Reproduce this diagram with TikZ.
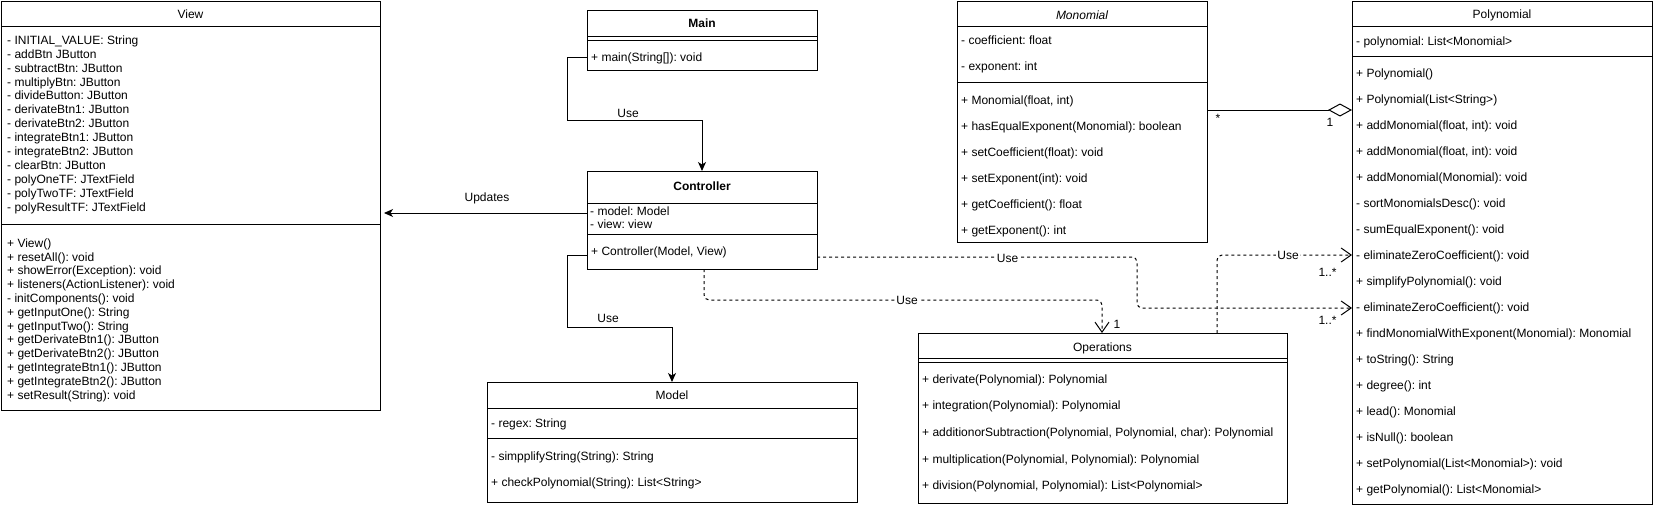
\documentclass[tikz,border=0pt]{standalone}
\usepackage{fontspec}
\setmainfont{Liberation Sans}
\usetikzlibrary{arrows.meta}
\frenchspacing
\newcommand\fs{\fontsize{12}{14}\selectfont}
\tikzset{
  cls/.style={draw, line width=1pt, anchor=north west, inner sep=0pt, outer sep=0pt},
  mem/.style={anchor=west, inner sep=0pt, font=\fs, text height=10.8pt, text depth=2.2pt},
  ttl/.style={anchor=center, inner sep=0pt, font=\fs, text height=10.8pt, text depth=2.2pt},
  sepline/.style={line width=1pt},
  link/.style={line width=1pt, -{Stealth[length=9pt,width=8pt,inset=2.5pt]}},
  dep/.style={line width=1pt, dash pattern=on 3pt off 3pt, rounded corners=5pt,
              -{Straight Barb[length=10pt,width=14pt,line width=1pt]}},
  agg/.style={line width=1pt, -{Diamond[length=24pt,width=13pt,open,fill=white,line width=1pt]}},
  lbl/.style={anchor=center, inner sep=1pt, font=\fs, text height=10.8pt, text depth=2.2pt},
  dlbl/.style={lbl, fill=white},
}
\begin{document}
\frenchspacing
\begin{tikzpicture}[x=1pt,y=-1pt]
\useasboundingbox (0,0) rectangle (1655,506);

% ---------- View ----------
\node[cls, minimum width=379pt, minimum height=409pt] (view) at (1,1) {};
\node[ttl] (viewT) at (190.5,14) {View};
\draw[sepline] (1,26) -- (380,26);
\draw[sepline] (1,224) -- (380,224);
\foreach \t [count=\i from 0] in {
  - INITIAL\_VALUE: String,
  - addBtn JButton,
  - subtractBtn: JButton,
  - multiplyBtn: JButton,
  - divideButton: JButton,
  - derivateBtn1: JButton,
  - derivateBtn2: JButton,
  - integrateBtn1: JButton,
  - integrateBtn2: JButton,
  - clearBtn: JButton,
  - polyOneTF: JTextField,
  - polyTwoTF: JTextField,
  - polyResultTF: JTextField}
  \node[mem] (va\i) at (7,{40+13.9*\i}) {\t};
\foreach \t [count=\i from 0] in {
  + View(),
  + resetAll(): void,
  + showError(Exception): void,
  + listeners(ActionListener): void,
  - initComponents(): void,
  + getInputOne(): String,
  + getInputTwo(): String,
  + getDerivateBtn1(): JButton,
  + getDerivateBtn2(): JButton,
  + getIntegrateBtn1(): JButton,
  + getIntegrateBtn2(): JButton,
  + setResult(String): void}
  \node[mem] (vm\i) at (7,{243+13.8*\i}) {\t};

% ---------- Main ----------
\node[cls, minimum width=230pt, minimum height=60pt] (main) at (587,10) {};
\node[ttl, font=\fs\bfseries] (mainT) at (702,23) {Main};
\draw[sepline] (587,36) -- (817,36);
\draw[sepline] (587,40) -- (817,40);
\node[mem] (mm0) at (591,57) {+ main(String[]): void};

% ---------- Controller ----------
\node[cls, minimum width=230pt, minimum height=98pt] (ctrl) at (587,171) {};
\node[ttl, font=\fs\bfseries] (ctrlT) at (702,186) {Controller};
\draw[sepline] (587,203) -- (817,203);
\draw[sepline] (587,234.5) -- (817,234.5);
\node[mem] (ca0) at (590,211) {- model: Model};
\node[mem] (ca1) at (590,224) {- view: view};
\node[mem] (cm0) at (591,251) {+ Controller(Model, View)};

% ---------- Model ----------
\node[cls, minimum width=370pt, minimum height=120pt] (model) at (487,382) {};
\node[ttl] (modelT) at (672,395) {Model};
\draw[sepline] (487,408) -- (857,408);
\draw[sepline] (487,438) -- (857,438);
\node[mem] (ma0) at (491,423) {- regex: String};
\node[mem] (mo0) at (491,456) {- simpplifyString(String): String};
\node[mem] (mo1) at (491,482) {+ checkPolynomial(String): List<String>};

% ---------- Operations ----------
\node[cls, minimum width=369pt, minimum height=170pt] (ops) at (918,333) {};
\node[ttl] (opsT) at (1102.5,347) {Operations};
\draw[sepline] (918,358) -- (1287,358);
\draw[sepline] (918,362) -- (1287,362);
\foreach \t [count=\i from 0] in {
  + derivate(Polynomial): Polynomial,
  + integration(Polynomial): Polynomial,
  {+ additionorSubtraction(Polynomial, Polynomial, char): Polynomial},
  {+ multiplication(Polynomial, Polynomial): Polynomial},
  {+ division(Polynomial, Polynomial): List<Polynomial>}}
  \node[mem] (om\i) at (922,{379+26.6*\i}) {\t};

% ---------- Monomial ----------
\node[cls, minimum width=250pt, minimum height=241pt] (mono) at (957,1) {};
\node[ttl, font=\fs\itshape] (monoT) at (1082,15) {Monomial};
\draw[sepline] (957,26) -- (1207,26);
\draw[sepline] (957,82) -- (1207,82);
\node[mem] (na0) at (961,40) {- coefficient: float};
\node[mem] (na1) at (961,66) {- exponent: int};
\foreach \t [count=\i from 0] in {
  {+ Monomial(float, int)},
  + hasEqualExponent(Monomial): boolean,
  + setCoefficient(float): void,
  + setExponent(int): void,
  + getCoefficient(): float,
  + getExponent(): int}
  \node[mem] (nm\i) at (961,{100+26*\i}) {\t};

% ---------- Polynomial ----------
\node[cls, minimum width=300pt, minimum height=503pt] (poly) at (1352,1) {};
\node[ttl] (polyT) at (1502,14) {Polynomial};
\draw[sepline] (1352,26) -- (1652,26);
\draw[sepline] (1352,56.7) -- (1652,56.7);
\node[mem] (pa0) at (1356,40.7) {- polynomial: List<Monomial>};
\foreach \t [count=\i from 0] in {
  + Polynomial(),
  + Polynomial(List<String>),
  {+ addMonomial(float, int): void},
  {+ addMonomial(float, int): void},
  + addMonomial(Monomial): void,
  - sortMonomialsDesc(): void,
  - sumEqualExponent(): void,
  - eliminateZeroCoefficient(): void,
  + simplifyPolynomial(): void,
  - eliminateZeroCoefficient(): void,
  + findMonomialWithExponent(Monomial): Monomial,
  + toString(): String,
  + degree(): int,
  + lead(): Monomial,
  + isNull(): boolean,
  + setPolynomial(List<Monomial>): void,
  + getPolynomial(): List<Monomial>}
  \node[mem] (pm\i) at (1356,{72.7+26*\i}) {\t};

% ---------- Connectors ----------
% Main -> Controller
\draw[link] (main.west |- 0,57) -| (567,120) -| (ctrl.north -| 702,0);
\node[lbl] (lUse1) at (628,113) {Use};
% Controller -> Model
\draw[link] (ctrl.west |- 0,255) -| (567,327) -| (model.north -| 672,0);
\node[lbl] (lUse2) at (608,318) {Use};
% Controller -> View
\draw[link, shorten >=4pt] (ctrl.west |- 0,213) -- (view.east |- 0,213);
\node[lbl] (lUpd) at (487,197) {Updates};
% Controller -> Operations
\draw[dep] (ctrl.south -| 704,0) |- (1102,300) -- (ops.north -| 1102,0);
\node[dlbl] (lUse3) at (907,300) {Use};
\node[lbl] (lOne1) at (1117,324) {1};
% Controller -> Polynomial
\draw[dep] (ctrl.east |- 0,257) -| (1137,308) -- (poly.west |- 0,308);
\node[dlbl] (lUse4) at (1007.5,258) {Use};
\node[lbl] (lMany1) at (1327.5,320) {1..*};
% Operations -> Polynomial
\draw[dep] (ops.north -| 1217,0) |- (poly.west |- 0,255);
\node[dlbl] (lUse5) at (1288,255) {Use};
\node[lbl] (lMany2) at (1327.5,272) {1..*};
% Monomial -> Polynomial (aggregation)
\draw[agg] (mono.east |- 0,110) -- (poly.west |- 0,110);
\node[lbl] (lStar) at (1218,118) {*};
\node[lbl] (lOne2) at (1330,122) {1};
\end{tikzpicture}
\end{document}
